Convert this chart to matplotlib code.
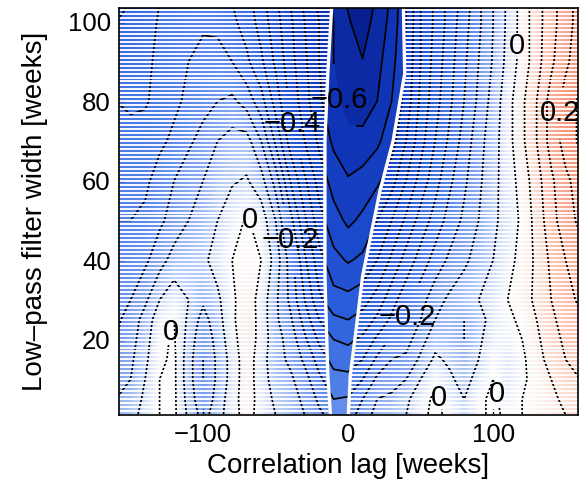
import numpy as np
import matplotlib
matplotlib.use("Agg")
import matplotlib.pyplot as plt
from matplotlib.colors import LinearSegmentedColormap, Normalize
from matplotlib.patches import Polygon

plt.rcParams['font.family'] = ['Liberation Sans', 'DejaVu Sans']

# ---------------- data ----------------
lags = [-160, -150, -140, -130, -120, -110, -100, -90, -80, -70, -60, -50, -40, -30, -20, -10,
        0, 10, 20, 30, 40, 50, 60, 70, 80, 90, 100, 110, 120, 130, 140, 150, 160]
widths = [1, 5, 10, 15, 20, 25, 30, 40, 50, 60, 70, 80, 90, 100, 105]

z_w1 = [-0.09, -0.07, -0.03, 0.00, 0.01, -0.06, -0.12, -0.07, -0.02, 0.02, -0.02, -0.05, -0.07, -0.10, -0.14, -0.17,
        -0.17, -0.13, -0.08, -0.07, -0.05, -0.01, 0.01, -0.01, -0.04, -0.01, 0.01, -0.01, 0.00, 0.02, 0.03, 0.05, 0.07]
z_w5 = [-0.10, -0.08, -0.04, 0.00, 0.01, -0.07, -0.14, -0.08, -0.02, 0.025, -0.02, -0.06, -0.08, -0.11, -0.16, -0.20,
        -0.195, -0.15, -0.10, -0.09, -0.06, -0.02, 0.01, -0.02, -0.05, -0.01, 0.01, -0.02, 0.00, 0.02, 0.04, 0.06, 0.08]
z_w10 = [-0.12, -0.10, -0.05, 0.00, 0.01, -0.08, -0.15, -0.09, -0.03, 0.03, -0.03, -0.07, -0.09, -0.13, -0.19, -0.23,
         -0.235, -0.20, -0.14, -0.12, -0.10, -0.05, -0.01, -0.04, -0.07, -0.03, 0.00, -0.03, -0.01, 0.02, 0.05, 0.08, 0.10]
z_w15 = [-0.14, -0.11, -0.06, -0.01, 0.01, -0.08, -0.15, -0.09, -0.03, 0.03, -0.03, -0.08, -0.11, -0.16, -0.22, -0.27,
         -0.275, -0.25, -0.19, -0.15, -0.14, -0.09, -0.04, -0.06, -0.09, -0.05, -0.01, -0.03, -0.01, 0.03, 0.07, 0.10, 0.12]
z_w20 = [-0.15, -0.12, -0.07, -0.01, 0.005, -0.07, -0.14, -0.08, -0.02, 0.035, -0.02, -0.08, -0.12, -0.19, -0.26, -0.30,
         -0.31, -0.29, -0.24, -0.19, -0.17, -0.12, -0.07, -0.08, -0.10, -0.06, -0.02, -0.02, 0.00, 0.04, 0.08, 0.11, 0.13]
z_w25 = [-0.16, -0.13, -0.08, -0.02, 0.00, -0.06, -0.12, -0.07, -0.01, 0.035, -0.02, -0.09, -0.14, -0.22, -0.30, -0.34,
         -0.35, -0.33, -0.29, -0.24, -0.20, -0.15, -0.10, -0.09, -0.10, -0.07, -0.03, -0.01, 0.01, 0.05, 0.09, 0.12, 0.14]
z_w30 = [-0.17, -0.15, -0.11, -0.05, -0.02, -0.05, -0.09, -0.06, -0.01, 0.03, -0.02, -0.09, -0.16, -0.25, -0.34, -0.38,
         -0.385, -0.37, -0.33, -0.27, -0.22, -0.17, -0.12, -0.09, -0.07, -0.05, -0.03, 0.00, 0.03, 0.06, 0.10, 0.13, 0.16]
z_w40 = [-0.19, -0.18, -0.16, -0.12, -0.08, -0.07, -0.06, -0.03, 0.00, 0.02, 0.00, -0.07, -0.17, -0.29, -0.38, -0.435,
         -0.455, -0.44, -0.40, -0.34, -0.28, -0.23, -0.18, -0.14, -0.11, -0.08, -0.05, -0.02, 0.02, 0.06, 0.11, 0.15, 0.18]
z_w50 = [-0.20, -0.20, -0.19, -0.16, -0.13, -0.10, -0.08, -0.05, -0.02, 0.005, -0.02, -0.10, -0.23, -0.34, -0.43, -0.48,
         -0.51, -0.49, -0.45, -0.40, -0.34, -0.28, -0.23, -0.18, -0.14, -0.10, -0.06, -0.03, 0.01, 0.07, 0.13, 0.18, 0.21]
z_w60 = [-0.21, -0.22, -0.21, -0.18, -0.15, -0.12, -0.10, -0.07, -0.055, -0.045, -0.08, -0.17, -0.30, -0.39, -0.47, -0.52,
         -0.545, -0.53, -0.51, -0.47, -0.40, -0.33, -0.27, -0.21, -0.16, -0.11, -0.065, -0.025, 0.02, 0.08, 0.14, 0.19, 0.22]
z_w70 = [-0.23, -0.24, -0.23, -0.21, -0.19, -0.16, -0.13, -0.10, -0.08, -0.08, -0.15, -0.26, -0.37, -0.45, -0.51, -0.56,
         -0.59, -0.585, -0.56, -0.52, -0.45, -0.37, -0.30, -0.24, -0.18, -0.12, -0.07, -0.02, 0.04, 0.10, 0.17, 0.22, 0.26]
z_w80 = [-0.25, -0.255, -0.255, -0.235, -0.21, -0.19, -0.17, -0.15, -0.14, -0.17, -0.23, -0.32, -0.41, -0.48, -0.54, -0.59,
         -0.615, -0.625, -0.60, -0.55, -0.48, -0.39, -0.32, -0.26, -0.20, -0.14, -0.08, -0.02, 0.04, 0.10, 0.17, 0.22, 0.26]
z_w90 = [-0.28, -0.275, -0.26, -0.24, -0.215, -0.20, -0.19, -0.185, -0.20, -0.24, -0.29, -0.36, -0.43, -0.49, -0.55, -0.60,
         -0.625, -0.648, -0.615, -0.57, -0.49, -0.40, -0.33, -0.27, -0.21, -0.15, -0.095, -0.035, 0.02, 0.08, 0.14, 0.19, 0.23]
z_w100 = [-0.30, -0.29, -0.27, -0.245, -0.225, -0.21, -0.205, -0.21, -0.24, -0.27, -0.32, -0.38, -0.44, -0.50, -0.55, -0.60,
          -0.645, -0.675, -0.63, -0.585, -0.50, -0.40, -0.34, -0.28, -0.22, -0.16, -0.10, -0.04, 0.02, 0.08, 0.13, 0.18, 0.22]
z_w105 = [-0.31, -0.30, -0.28, -0.25, -0.23, -0.22, -0.21, -0.22, -0.25, -0.28, -0.33, -0.39, -0.45, -0.51, -0.56, -0.61,
          -0.655, -0.69, -0.64, -0.59, -0.50, -0.40, -0.34, -0.28, -0.23, -0.16, -0.10, -0.04, 0.02, 0.08, 0.13, 0.18, 0.22]

# significance region boundary (lag at given filter width)
sig_left_w = [0, 11, 36, 50, 70, 87, 106]
sig_left_lag = [-12, -14, -16, -16, -16, -14, -11]
sig_right_w = [0, 11, 24, 36, 45, 57.5, 70, 87, 106]
sig_right_lag = [0, 1.5, 6, 10, 15, 22, 31, 39, 38]

plain_levels = [-0.7, -0.65, -0.55, -0.5, -0.45, -0.35, -0.3, -0.25, -0.15,
                -0.1, -0.05, 0.05, 0.1, 0.15, 0.25, 0.3]
label_levels = [-0.6, -0.4, -0.2, 0.0, 0.2]
label_spots = [(-12, 80), (-42, 74), (-40, 45), (-65, 51), (39, 26), (-123, 22),
               (61, 5), (100, 6), (115, 94), (143, 77)]

corr = np.array([z_w1, z_w5, z_w10, z_w15, z_w20, z_w25, z_w30, z_w40, z_w50,
                 z_w60, z_w70, z_w80, z_w90, z_w100, z_w105])

# ---------------- colours ----------------
anchors = [(-0.7, '#061a86'), (-0.6, '#0d30b0'), (-0.5, '#1844c8'), (-0.4, '#2557d6'),
           (-0.3, '#376be0'), (-0.2, '#5885e8'), (-0.1, '#8eaef0'), (0.0, '#ffffff'),
           (0.1, '#fbcdbd'), (0.2, '#f4a086'), (0.3, '#eb7e64'), (0.7, '#b01e14')]
cmap = LinearSegmentedColormap.from_list(
    'bwr_custom', [((v + 0.7) / 1.4, c) for v, c in anchors])
norm = Normalize(vmin=-0.7, vmax=0.7)

# ---------------- figure ----------------
fig = plt.figure(figsize=(5.85, 4.92), dpi=100)
ax = fig.add_axes([0.2034, 0.1565, 0.7846, 0.8272])
xmin, xmax = -158, 158.5
ymin, ymax = 1, 103.5

L, W = np.meshgrid(lags, widths)
ax.pcolormesh(L, W, corr, shading='gouraud', cmap=cmap, norm=norm, zorder=1)

poly = list(zip(sig_left_lag, sig_left_w)) + list(zip(sig_right_lag[::-1], sig_right_w[::-1]))
clip_patch = Polygon(poly, closed=True, facecolor='none', edgecolor='none')
ax.add_patch(clip_patch)
all_levels = sorted(plain_levels + label_levels)
fill_levels = [-1.0] + all_levels + [1.0]
cf = ax.contourf(L, W, corr, levels=fill_levels, cmap=cmap, norm=norm, zorder=2)
cf.set_clip_path(clip_patch)

ax.contour(L, W, corr, levels=plain_levels, colors='k', linewidths=1.2,
           linestyles='solid', zorder=3)
cs_lab = ax.contour(L, W, corr, levels=label_levels, colors='k', linewidths=1.2,
                    linestyles='solid', zorder=3)

# white hatching stripes outside the significant region
for y in range(1, 105):
    xl = np.interp(y, sig_left_w, sig_left_lag)
    xr = np.interp(y, sig_right_w, sig_right_lag)
    ax.hlines([y, y], [xmin - 5, xr], [xl, xmax + 5], colors='white', linewidth=1.35, zorder=4)

ax.add_patch(Polygon(poly, closed=True, fill=False, edgecolor='white', linewidth=2.4, zorder=5))


def fmt(v):
    if abs(v) < 1e-9:
        return '0'
    return ('%g' % v).replace('-', '\u2212')


texts = ax.clabel(cs_lab, manual=label_spots, inline=True,
                  inline_spacing=3, fmt=fmt, fontsize=21, colors='k')
for t in texts:
    t.set_rotation(0)
    t.set_zorder(6)

ax.set_xlim(xmin, xmax)
ax.set_ylim(ymin, ymax)
ax.set_xticks([-100, 0, 100])
ax.set_xticklabels(['\u2212100', '0', '100'])
ax.set_yticks([20, 40, 60, 80, 100])
ax.tick_params(direction='in', length=4, width=1, labelsize=18.5, pad=6)
for s in ax.spines.values():
    s.set_linewidth(1.2)
    s.set_zorder(7)
ax.set_xlabel('Correlation lag [weeks]', fontsize=20, labelpad=4)
ax.set_ylabel('Low\u2013pass filter width [weeks]', fontsize=20, labelpad=14)

fig.savefig('out.png', dpi=100)
